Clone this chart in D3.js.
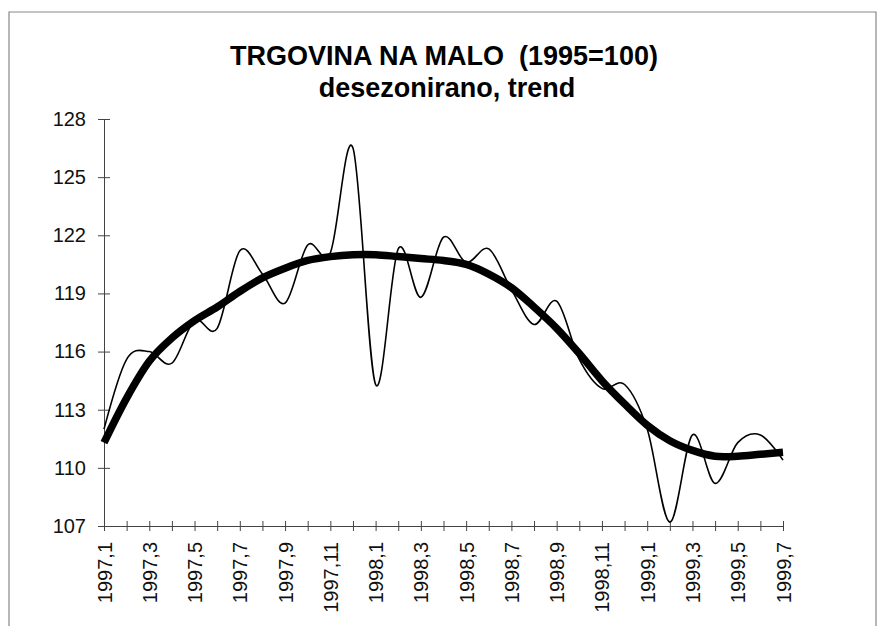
<!DOCTYPE html>
<html>
<head>
<meta charset="utf-8">
<script src="https://cdn.jsdelivr.net/npm/d3@7"></script>
<style>
  body { margin: 0; background: #fff; }
  text { font-family: "Liberation Sans", Arial, sans-serif; }
</style>
</head>
<body>
<svg width="878" height="626"></svg>
<script>
var months = ["1997,1","1997,2","1997,3","1997,4","1997,5","1997,6","1997,7","1997,8","1997,9","1997,10","1997,11","1997,12",
              "1998,1","1998,2","1998,3","1998,4","1998,5","1998,6","1998,7","1998,8","1998,9","1998,10","1998,11","1998,12",
              "1999,1","1999,2","1999,3","1999,4","1999,5","1999,6","1999,7"];

// desezonirano
var seasAdj = [112.0, 115.6, 116.0, 115.4, 117.6, 117.2, 121.2, 120.0, 118.5, 121.5, 121.1, 126.5,
               114.3, 121.3, 118.8, 121.9, 120.6, 121.3, 119.2, 117.4, 118.6, 115.6, 114.1, 114.3,
               112.0, 107.2, 111.7, 109.2, 111.3, 111.7, 110.4];

// trend
var trend = [111.3, 113.6, 115.5, 116.7, 117.6, 118.3, 119.1, 119.8, 120.3, 120.7, 120.9, 121.0,
             121.0, 120.9, 120.8, 120.7, 120.5, 120.0, 119.3, 118.3, 117.2, 115.9, 114.5, 113.3,
             112.2, 111.4, 110.9, 110.6, 110.6, 110.7, 110.8];

var yTicks = [107, 110, 113, 116, 119, 122, 125, 128];

var svg = d3.select("svg");

// frame
svg.append("path")
    .attr("d", "M9,626 V12 H876 V626")
    .attr("fill", "none")
    .attr("stroke", "#888")
    .attr("stroke-width", 1.2);

var x = d3.scalePoint().domain(months).range([104, 783]);
var y = d3.scaleLinear().domain([107, 128]).range([526, 119]);

// y axis
var yAxis = svg.append("g")
    .attr("transform", "translate(104,0)")
    .call(d3.axisLeft(y).tickValues(yTicks).tickSize(6).tickPadding(12).tickFormat(d3.format("d")));
yAxis.selectAll(".tick line").attr("x1", -6).attr("x2", 6).attr("stroke", "#444");
yAxis.selectAll("text").style("font-size", "20px").attr("fill", "#111");
yAxis.select(".domain").attr("stroke", "#444");

// x axis
var xAxis = svg.append("g")
    .attr("transform", "translate(0,526)")
    .call(d3.axisBottom(x).tickSize(5).tickFormat(function(d, i) { return i % 2 === 0 ? d : ""; }));
xAxis.selectAll(".tick line").attr("y1", -5).attr("y2", 5).attr("stroke", "#444");
xAxis.select(".domain").attr("stroke", "#444");
xAxis.selectAll("text")
    .attr("transform", "rotate(-90)")
    .attr("x", -16)
    .attr("y", 0)
    .attr("dy", "0.35em")
    .style("text-anchor", "end")
    .style("font-size", "20px")
    .attr("fill", "#111");

// lines
var line = d3.line()
    .x(function(d, i) { return x(months[i]); })
    .y(function(d) { return y(d); })
    .curve(d3.curveCardinal.tension(0));

svg.append("path")
    .datum(seasAdj)
    .attr("d", line)
    .attr("fill", "none")
    .attr("stroke", "#000")
    .attr("stroke-width", 1.6);

svg.append("path")
    .datum(trend)
    .attr("d", line)
    .attr("fill", "none")
    .attr("stroke", "#000")
    .attr("stroke-width", 7.5);

// titles
svg.append("text")
    .attr("x", 444)
    .attr("y", 65)
    .attr("text-anchor", "middle")
    .style("font-size", "27px")
    .style("font-weight", "bold")
    .style("white-space", "pre")
    .text("TRGOVINA NA MALO  (1995=100)");

svg.append("text")
    .attr("x", 447)
    .attr("y", 97)
    .attr("text-anchor", "middle")
    .style("font-size", "27px")
    .style("font-weight", "bold")
    .text("desezonirano, trend");
</script>
</body>
</html>
